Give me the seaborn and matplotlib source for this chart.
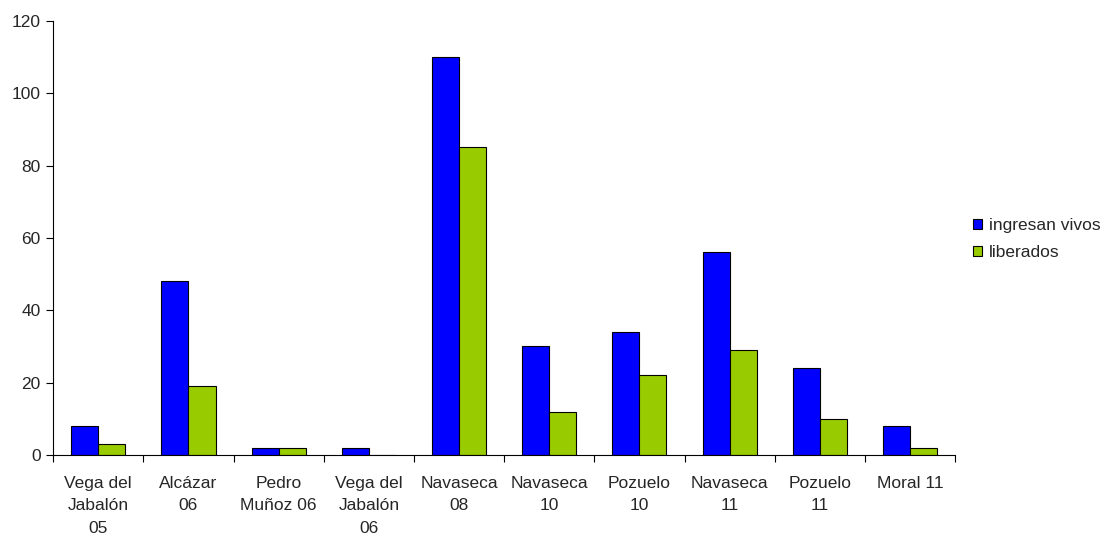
import numpy as np
import pandas as pd
import matplotlib
matplotlib.use("Agg")
import matplotlib.pyplot as plt
import seaborn as sns

# --- data ---
categories = ["Vega del\nJabalón\n05", "Alcázar\n06", "Pedro\nMuñoz 06", "Vega del\nJabalón\n06",
              "Navaseca\n08", "Navaseca\n10", "Pozuelo\n10", "Navaseca\n11", "Pozuelo\n11", "Moral 11"]
ingresan_vivos = [8, 48, 2, 2, 110, 30, 34, 56, 24, 8]
liberados = [3, 19, 2, 0, 85, 12, 22, 29, 10, 2]

df = pd.DataFrame({
    "cat": categories * 2,
    "valor": ingresan_vivos + liberados,
    "serie": ["ingresan vivos"] * len(categories) + ["liberados"] * len(categories),
})

sns.set_style("white")
plt.rcParams["font.family"] = ["Liberation Sans", "DejaVu Sans"]

fig = plt.figure(figsize=(11.08, 5.34), dpi=100)
ax = fig.add_axes([0.048, 0.148, 0.814, 0.813])

sns.barplot(data=df, x="cat", y="valor", hue="serie",
            palette={"ingresan vivos": "#0000FF", "liberados": "#99CC00"},
            saturation=1, width=0.6, gap=0, edgecolor="black", linewidth=0.8,
            errorbar=None, ax=ax)

ax.set_xlim(-0.5, len(categories) - 0.5)
ax.set_ylim(0, 120)
ax.set_yticks(range(0, 121, 20))
ax.set_xlabel("")
ax.set_ylabel("")

for s in ["top", "right"]:
    ax.spines[s].set_visible(False)
for s in ["left", "bottom"]:
    ax.spines[s].set_color("black")
    ax.spines[s].set_linewidth(0.8)

# tick marks between categories, labels centred
ax.set_xticks(np.arange(len(categories)))
ax.set_xticklabels(categories, fontsize=12.5, linespacing=1.62)
ax.set_xticks(np.arange(-0.5, len(categories)), minor=True)
ax.tick_params(axis="x", which="major", length=0, pad=15)
ax.tick_params(axis="x", which="minor", length=5, width=0.8, color="black", direction="out")
ax.tick_params(axis="y", length=5, width=0.8, color="black", direction="out", labelsize=12.5, pad=4)
ax.xaxis.set_ticks_position("bottom")
ax.yaxis.set_ticks_position("left")

ax.legend(title=None, frameon=False, loc="center left", bbox_to_anchor=(1.02, 0.497),
          borderaxespad=0, borderpad=0, fontsize=12.5, handlelength=0.5, handleheight=0.5,
          handletextpad=0.4, labelspacing=0.72)

fig.savefig("out.png", dpi=100)
